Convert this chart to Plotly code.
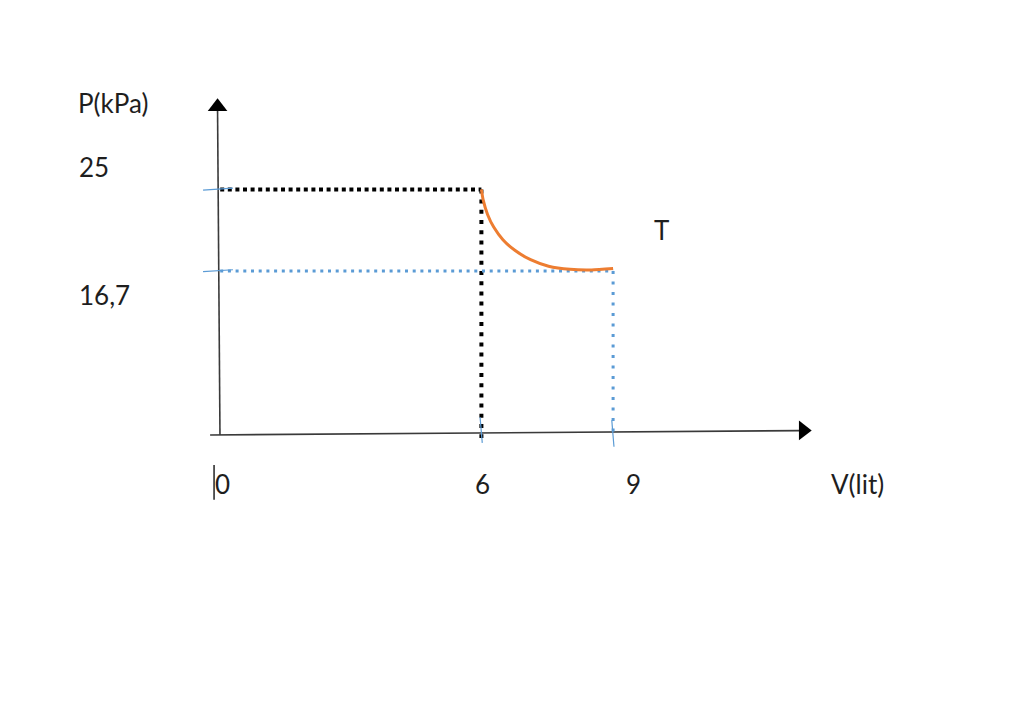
import plotly.graph_objects as go

# ---- data ----
V_ticks = [0, 6, 9]                     # V (lit) marked on the axis
V_tick_labels = ["0", "6", "9"]
P_ticks = [25, 16.7]                    # P (kPa) marked on the axis
P_tick_labels = ["25", "16,7"]
state1 = (6, 25)                        # (V, P) start of the process
state2 = (9, 16.7)                      # (V, P) end of the process
curve_V = [6.0, 6.04, 6.14, 6.28, 6.49, 6.77, 7.12, 7.53, 8.02, 8.51, 9.0]
curve_P = [25.0, 23.93, 22.45, 21.16, 19.88, 18.77, 17.84, 17.18, 16.86, 16.8, 16.95]
x_title = "V(lit)"
y_title = "P(kPa)"
curve_label = "T"

# ---- styling / layout ----
OFF = 8                          # page body margin
W, H = 1024 - OFF, 724 - OFF
X0_PX, Y0_PX = 218 - OFF, 435 - OFF   # pixel position of the origin inside the figure
SX, SY = 43.9, 9.825             # pixels per unit
x_range = [-X0_PX / SX, (W - X0_PX) / SX]
y_range = [(Y0_PX - H) / SY, Y0_PX / SY]
FONT = "Lato"
FS = 26
TXT = "#1e1e1e"
AX = "#3a3a3a"
BLUE = "#5b9bd5"
ORANGE = "#ed7d31"

def px_x(x):  # page pixel -> V (used only for text placement)
    return (x - OFF - X0_PX) / SX

def px_y(y):  # page pixel -> P (used only for text placement)
    return (Y0_PX - (y - OFF)) / SY

fig = go.Figure()

def seg(xs, ys, color, width, dash="solid"):
    fig.add_trace(go.Scatter(x=xs, y=ys, mode="lines",
                             line=dict(color=color, width=width, dash=dash),
                             hoverinfo="skip", showlegend=False, cliponaxis=False))

# axes (hand-drawn arrows)
y_top = 33.0
x_end = 13.25
seg([0.045, -0.01], [0, y_top], AX, 1.6)
seg([-0.18, x_end], [0, 0.45], AX, 1.6)
fig.add_trace(go.Scatter(x=[-0.01], y=[33.4], mode="markers",
                         marker=dict(symbol="triangle-up", size=17, color="black"),
                         hoverinfo="skip", showlegend=False, cliponaxis=False))
fig.add_trace(go.Scatter(x=[13.33], y=[0.47], mode="markers",
                         marker=dict(symbol="triangle-right", size=17, color="black"),
                         hoverinfo="skip", showlegend=False, cliponaxis=False))

# dotted guide lines
V1, P1 = state1
V2, P2 = state2
seg([0.05, V1], [P1, P1], "black", 4, "4px,3.6px")
seg([V1, V1], [P1, -0.3], "black", 4, "4px,6.2px")
seg([0.05, V2], [P2, P2], BLUE, 3, "3px,4.7px")
seg([V2, V2], [P2, -0.2], BLUE, 3, "3px,7.5px")

# small blue tick marks
tk = 0.34
for p in P_ticks:
    seg([-tk, tk], [p - 0.08, p + 0.12], BLUE, 1.2)
for v, (a, b) in zip(V_ticks[1:], [(1.8, -0.8), (1.5, -1.2)]):
    seg([v - 0.03, v + 0.02], [a, b], BLUE, 1.2)

# isothermal curve
fig.add_trace(go.Scatter(x=curve_V, y=curve_P, mode="lines",
                         line=dict(color=ORANGE, width=3, shape="spline", smoothing=0.6),
                         hoverinfo="skip", showlegend=False, cliponaxis=False))

# text cursor artefact next to the "0"
seg([-0.09, -0.09], [-3.05, -6.6], "black", 1.3)

ann = []
shifts = [4, 1, 20]
for v, lab, xs in zip(V_ticks, V_tick_labels, shifts):
    ann.append(dict(x=v, y=0, text=lab, xshift=xs, yshift=-49))
ann.append(dict(x=px_x(77), y=P_ticks[0], text=P_tick_labels[0],
                xanchor="left", yshift=22))
ann.append(dict(x=px_x(77), y=P_ticks[1], text=P_tick_labels[1],
                xanchor="left", yshift=-24))
ann.append(dict(x=px_x(76), y=px_y(103), text=y_title, xanchor="left"))
ann.append(dict(x=px_x(829), y=0, text=x_title, xanchor="left", yshift=-49))
ann.append(dict(x=px_x(661), y=px_y(230), text=curve_label))
for a in ann:
    a.update(xref="x", yref="y", showarrow=False,
             font=dict(family=FONT, size=FS, color=TXT))
    a.setdefault("xanchor", "center")
    a["yanchor"] = "middle"

fig.update_layout(
    width=W, height=H, autosize=False,
    margin=dict(l=0, r=0, t=0, b=0, pad=0),
    paper_bgcolor="white", plot_bgcolor="white",
    xaxis=dict(range=x_range, visible=False, fixedrange=True),
    yaxis=dict(range=y_range, visible=False, fixedrange=True),
    annotations=ann,
    showlegend=False,
)
fig.write_html("out.html", config={"displayModeBar": False})
